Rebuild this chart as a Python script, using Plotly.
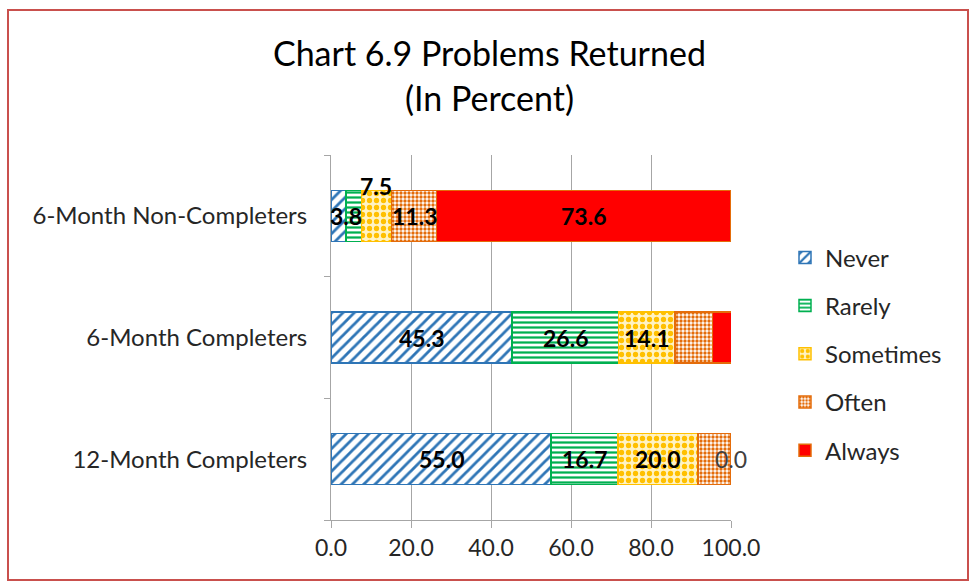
import plotly.graph_objects as go

# Categories (top to bottom) and response series, in percent
categories = ["6-Month Non-Completers", "6-Month Completers", "12-Month Completers"]
series_names = ["Never", "Rarely", "Sometimes", "Often", "Always"]
never = [3.8, 45.3, 55.0]
rarely = [3.8, 26.6, 16.7]
sometimes = [7.5, 14.1, 20.0]
often = [11.3, 9.4, 8.3]
always = [73.6, 4.7, 0.0]
x_ticks = [0, 20, 40, 60, 80, 100]

values = [never, rarely, sometimes, often, always]

styles = {
    "Never": dict(line="#2e75b6", pattern=dict(shape="/", fgcolor="#2e75b6", bgcolor="white", size=8, solidity=0.35)),
    "Rarely": dict(line="#00b050", pattern=dict(shape="-", fgcolor="#00b050", bgcolor="white", size=5, solidity=0.45)),
    "Sometimes": dict(line="#ffc000", pattern=dict(shape=".", fgcolor="#ffc000", bgcolor="#fff3c4", size=7, solidity=0.45)),
    "Often": dict(line="#e46c0a", pattern=dict(shape=".", fgcolor="#e46c0a", bgcolor="white", size=4, solidity=0.55)),
    "Always": dict(line="#e46c0a", color="#ff0000"),
}

FONT = "Lato, 'Open Sans', sans-serif"
TEXT = "#262626"

fig = go.Figure()
for name, vals in zip(series_names, values):
    st = styles[name]
    marker = dict(line=dict(color=st["line"], width=1.5))
    if "pattern" in st:
        marker["color"] = st["pattern"]["bgcolor"]
        marker["pattern"] = dict(fillmode="replace", **st["pattern"])
    else:
        marker["color"] = st["color"]
    fig.add_trace(go.Bar(
        y=categories, x=vals, name=name, orientation="h",
        marker=marker, legendgroup=name, hoverinfo="x+name",
    ))


def seg_center(row, k):
    """Midpoint of segment k in category row."""
    start = sum(values[j][row] for j in range(k))
    return start + values[k][row] / 2


label_font = dict(family=FONT, size=23, color="black")
zero_font = dict(family=FONT, size=23, color="#404040")
labels = [
    # (row, series index, x at segment boundary?, y shift, font)
    (0, 0, True, 0, label_font),
    (0, 2, False, 30, label_font),
    (0, 3, False, 0, label_font),
    (0, 4, False, 0, label_font),
    (1, 0, False, 0, label_font),
    (1, 1, False, 0, label_font),
    (1, 2, False, 0, label_font),
    (2, 0, False, 0, label_font),
    (2, 1, False, 0, label_font),
    (2, 2, False, 0, label_font),
    (2, 4, False, 0, zero_font),
]
for row, k, at_edge, ys, fnt in labels:
    xv = sum(values[j][row] for j in range(k + 1)) if at_edge else seg_center(row, k)
    txt = f"{values[k][row]:.1f}"
    fig.add_annotation(
        x=xv, y=categories[row],
        text=f"<b>{txt}</b>" if fnt is label_font else txt,
        showarrow=False, font=fnt, yshift=ys, xanchor="center",
    )

# Outer chart border
fig.add_shape(type="rect", xref="paper", yref="paper",
              x0=-0.8075, x1=1.5925, y0=-0.1644, y1=1.397,
              line=dict(color="#c9504d", width=2), fillcolor="rgba(0,0,0,0)")

fig.update_layout(
    width=975, height=587,
    barmode="stack", bargap=0.58,
    paper_bgcolor="white", plot_bgcolor="white",
    margin=dict(l=331, r=244, t=155, b=67),
    title=dict(text="Chart 6.9 Problems Returned<br>(In Percent)",
               xref="container", x=0.502, xanchor="center",
               yref="container", y=0.887, yanchor="top",
               font=dict(family=FONT, size=34, color="black")),
    font=dict(family=FONT, size=24, color=TEXT),
    showlegend=True,
    legend=dict(x=1.135, y=0.78, xanchor="left", yanchor="top",
                traceorder="grouped", tracegroupgap=14, itemwidth=30,
                font=dict(family=FONT, size=24, color=TEXT),
                bgcolor="rgba(0,0,0,0)"),
)

fig.update_xaxes(range=[0, 100], tickvals=x_ticks, tickformat=".1f",
                 showgrid=True, gridcolor="#a6a6a6", gridwidth=1,
                 showline=True, linecolor="#a6a6a6", linewidth=1,
                 ticks="outside", ticklen=7, tickcolor="#a6a6a6",
                 tickfont=dict(family=FONT, size=23, color=TEXT),
                 zeroline=False, fixedrange=True)
fig.update_yaxes(categoryorder="array", categoryarray=categories[::-1],
                 showline=True, linecolor="#a6a6a6", linewidth=1,
                 ticks="outside", ticklen=6, tickcolor="#a6a6a6",
                 tickson="boundaries", showgrid=False,
                 tickfont=dict(family=FONT, size=24, color=TEXT),
                 ticklabelstandoff=18, fixedrange=True)

fig.write_html("out.html")
